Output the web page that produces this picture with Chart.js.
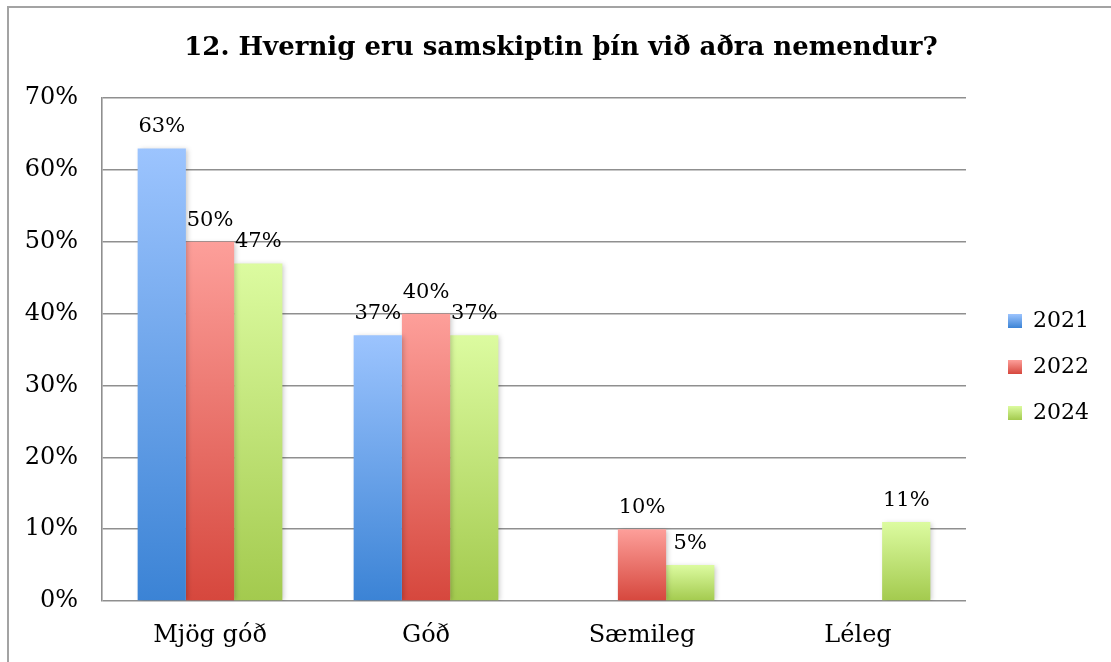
<!DOCTYPE html>
<html>
<head>
<meta charset="utf-8">
<script src="https://cdn.jsdelivr.net/npm/chart.js@4/dist/chart.umd.min.js"></script>
<style>
  html, body { margin: 0; padding: 0; background: #ffffff; }
  #wrap { position: relative; width: 1111px; height: 662px; overflow: hidden; }
  #frame { position: absolute; left: 7px; top: 6px; width: 1200px; height: 800px;
           border-left: 2px solid #a3a3a3; border-top: 2px solid #a3a3a3; }
  #c { position: absolute; left: 0; top: 0; }
</style>
</head>
<body>
<div id="wrap">
  <div id="frame"></div>
  <canvas id="c" width="1111" height="662"></canvas>
</div>
<script>
// ---- data ----
const titleText = '12. Hvernig eru samskiptin þín við aðra nemendur?';
const categories = ['Mjög góð', 'Góð', 'Sæmileg', 'Léleg'];
const seriesNames = ['2021', '2022', '2024'];
const values2021 = [63, 37, 0, 0];
const values2022 = [50, 40, 10, 0];
const values2024 = [47, 37, 5, 11];
const yTicks = [0, 10, 20, 30, 40, 50, 60, 70];

// ---- styles ----
const SERIF = '"DejaVu Serif", "Liberation Serif", serif';
const gradStops = {
  '2021': ['#9cc4fe', '#3b83d5'],
  '2022': ['#fd9f9a', '#d6473d'],
  '2024': ['#dcfba0', '#a3ca4e']
};

function barFill(name) {
  return function (ctx) {
    const chart = ctx.chart;
    const stops = gradStops[name];
    if (ctx.type !== 'data' || !chart.chartArea) return stops[0];
    const y = chart.scales.y;
    const v = ctx.raw || 0;
    const top = y.getPixelForValue(v);
    const bottom = y.getPixelForValue(0);
    if (!(bottom - top > 0.5)) return stops[0];
    const g = chart.ctx.createLinearGradient(0, top, 0, bottom);
    g.addColorStop(0, stops[0]);
    g.addColorStop(1, stops[1]);
    return g;
  };
}

const seriesValues = [values2021, values2022, values2024];
const datasets = seriesNames.map((n, i) => ({
  label: n,
  data: seriesValues[i],
  backgroundColor: barFill(n),
  borderWidth: 0,
  barPercentage: 1.0,
  categoryPercentage: 0.67
}));

// shadow for bars
const shadowPlugin = {
  id: 'barShadow',
  beforeDatasetsDraw(chart) {
    const c = chart.ctx;
    c.save();
    c.shadowColor = 'rgba(0,0,0,0.22)';
    c.shadowBlur = 5;
    c.shadowOffsetX = 2;
    c.shadowOffsetY = 1;
  },
  afterDatasetsDraw(chart) {
    chart.ctx.restore();
  }
};

// value labels above bars
const valueLabels = {
  id: 'valueLabels',
  afterDatasetsDraw(chart) {
    const c = chart.ctx;
    c.save();
    c.font = '21px ' + SERIF;
    c.fillStyle = '#000';
    c.textAlign = 'center';
    c.textBaseline = 'alphabetic';
    chart.data.datasets.forEach((ds, di) => {
      const meta = chart.getDatasetMeta(di);
      meta.data.forEach((el, i) => {
        const v = ds.data[i];
        if (!v) return;
        c.fillText(v + '%', el.x, el.y - 16);
      });
    });
    c.restore();
  }
};

// position fine-tuning for title and legend, gradient legend boxes
const placement = {
  id: 'placement',
  beforeDraw(chart) {
    const t = chart.titleBlock;
    if (t) {
      const cx = (t.left + t.right) / 2;
      const dx = 561 - cx;
      t.left += dx; t.right += dx;
    }
    const lg = chart.legend;
    if (lg) {
      const w = lg.right - lg.left;
      lg.left = chart.chartArea.right + 18;
      lg.right = lg.left + w;
      lg.top = 286; lg.bottom = 448;
      const c = chart.ctx;
      lg.legendItems.forEach((it, i) => {
        const stops = gradStops[it.text];
        const top = 310 + i * 46 + 4;
        const g = c.createLinearGradient(0, top, 0, top + 14);
        g.addColorStop(0, stops[0]);
        g.addColorStop(1, stops[1]);
        it.fillStyle = g;
        it.strokeStyle = 'rgba(0,0,0,0)';
        it.lineWidth = 0;
      });
    }
  }
};

new Chart(document.getElementById('c'), {
  type: 'bar',
  data: { labels: categories, datasets: datasets },
  options: {
    responsive: false,
    animation: false,
    devicePixelRatio: 1,
    layout: { padding: { left: 14, right: 30, top: 33, bottom: 0 } },
    plugins: {
      title: {
        display: true,
        text: titleText,
        color: '#000',
        font: { family: SERIF, size: 26, weight: 'bold', lineHeight: 1.2 },
        padding: { top: 0, bottom: 34 }
      },
      legend: {
        display: true,
        position: 'right',
        labels: {
          color: '#000',
          boxWidth: 14,
          boxHeight: 14,
          padding: 24,
          font: { family: SERIF, size: 22 }
        }
      },
      tooltip: { enabled: false }
    },
    scales: {
      x: {
        grid: { display: false, drawTicks: false },
        border: { display: false },
        ticks: { color: '#000', padding: 20, font: { family: SERIF, size: 24 } },
        afterFit(scale) { scale.height = 61; }
      },
      y: {
        min: 0,
        max: 70,
        afterBuildTicks(scale) { scale.ticks = yTicks.map(v => ({ value: v })); },
        ticks: {
          color: '#000',
          padding: 24,
          font: { family: SERIF, size: 24 },
          callback: v => v + '%'
        },
        grid: { color: '#8f8f8f', lineWidth: 1.6, drawTicks: false },
        border: { display: true, color: '#8f8f8f', width: 1.6 },
        afterFit(scale) { scale.width = 88; }
      }
    }
  },
  plugins: [shadowPlugin, valueLabels, placement]
});
</script>
</body>
</html>
